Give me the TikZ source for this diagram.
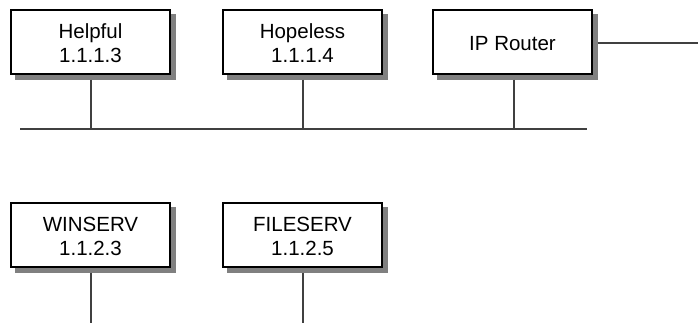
\documentclass[tikz,border=0pt]{standalone}
\usepackage{fontspec}
\setmainfont{Liberation Sans}
\usetikzlibrary{backgrounds}
\newcommand\lowerln[1]{\raisebox{-1.5pt}[\height][\depth]{#1}}
\begin{document}
\begin{tikzpicture}[x=1pt,y=-1pt,
  hostbox/.style={draw=black, line width=1.2pt, fill=white, minimum width=159pt, minimum height=64pt,
    inner sep=0pt, align=center, font=\fontsize{20.5}{24}\selectfont},
  shadowbox/.style={fill=black!50},
  wire/.style={draw=black!75, line width=2pt}]
\useasboundingbox (0,0) rectangle (698,323);
\node[hostbox] (helpful) at (90.5,42) {\lowerln{Helpful}\\\lowerln{1.1.1.3}};
\node[hostbox] (hopeless) at (302.5,42) {\lowerln{Hopeless}\\\lowerln{1.1.1.4}};
\node[hostbox] (router) at (512.5,42) {\lowerln{IP Router}};
\node[hostbox] (winserv) at (90.5,235) {\lowerln{WINSERV}\\\lowerln{1.1.2.3}};
\node[hostbox] (fileserv) at (302.5,235) {\lowerln{FILESERV}\\\lowerln{1.1.2.5}};
\coordinate (busL) at (20,129);
\coordinate (busR) at (587,129);
\coordinate (wanEnd) at (698,43);
\coordinate (winEnd) at (91,323);
\coordinate (fileEnd) at (303,323);
\begin{scope}[on background layer]
\foreach \n in {helpful,hopeless,router,winserv,fileserv}
  \fill[shadowbox] ([shift={(5pt,-5pt)}]\n.south west) rectangle ([shift={(5pt,-5pt)}]\n.north east);
\draw[wire] (busL) -- (busR);
\draw[wire] ([shift={(0.5pt,-5pt)}]helpful.south) -- ([xshift=0.5pt]helpful.south |- busL);
\draw[wire] ([shift={(0.5pt,-5pt)}]hopeless.south) -- ([xshift=0.5pt]hopeless.south |- busL);
\draw[wire] ([shift={(1.5pt,-5pt)}]router.south) -- ([xshift=1.5pt]router.south |- busL);
\draw[wire] ([xshift=5pt]router.east |- wanEnd) -- (wanEnd);
\draw[wire] ([yshift=-5pt]winserv.south -| winEnd) -- (winEnd);
\draw[wire] ([yshift=-5pt]fileserv.south -| fileEnd) -- (fileEnd);
\end{scope}
\end{tikzpicture}
\end{document}
